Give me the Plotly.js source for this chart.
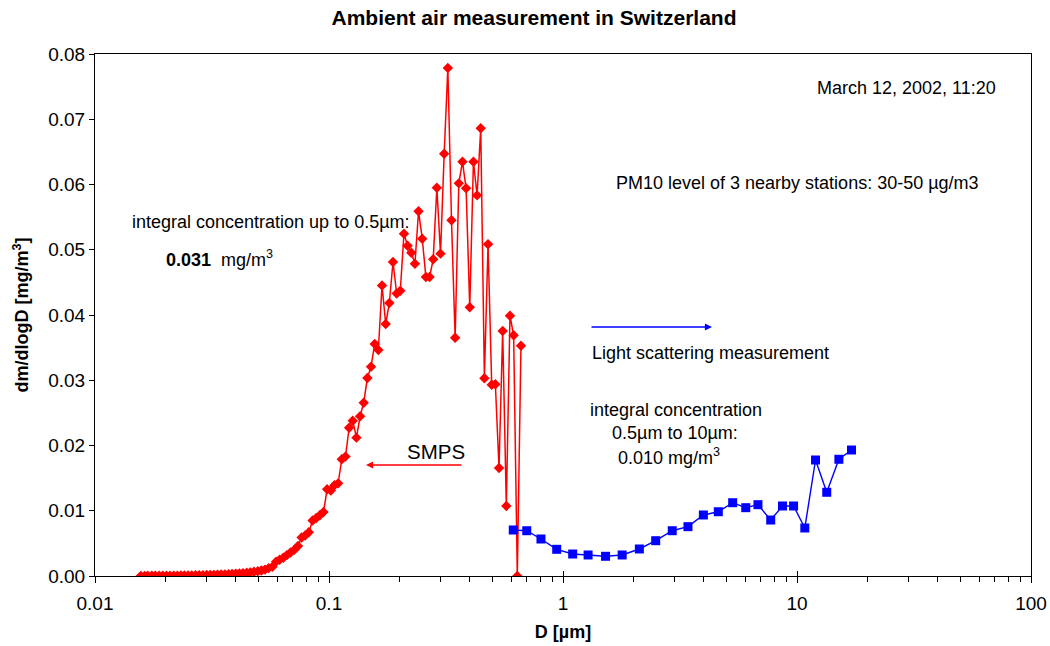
<!DOCTYPE html>
<html>
<head>
<meta charset="utf-8">
<script src="https://cdn.plot.ly/plotly-3.0.1.min.js"></script>
<style>html,body{margin:0;padding:0;background:#fff;}#chart{width:1050px;height:646px;}</style>
</head>
<body>
<div id="chart"></div>
<script>
// SMPS channel midpoints (µm)
const smpsD = [0.0157,0.0163,0.0168,0.0175,0.0181,0.0188,0.0195,0.0202,0.0209,0.0217,
  0.0225,0.0233,0.0241,0.0250,0.0259,0.0269,0.0279,0.0289,0.0300,0.0311,
  0.0322,0.0334,0.0346,0.0359,0.0372,0.0385,0.0400,0.0414,0.0429,0.0445,
  0.0461,0.0478,0.0496,0.0514,0.0533,0.0552,0.0573,0.0594,0.0615,0.0638,
  0.0661,0.0685,0.0710,0.0737,0.0764,0.0791,0.0820,0.0851,0.0882,0.0914,
  0.0947,0.0982,0.1018,0.1055,0.1094,0.1134,0.1176,0.1219,0.1263,0.1310,
  0.1358,0.1407,0.1459,0.1512,0.1568,0.1625,0.1685,0.1747,0.1811,0.1877,
  0.1946,0.2017,0.2091,0.2167,0.2247,0.2329,0.2414,0.2503,0.2595,0.2690,
  0.2788,0.2890,0.2996,0.3106,0.3220,0.3338,0.3460,0.3587,0.3718,0.3854,
  0.3995,0.4142,0.4294,0.4451,0.4614,0.4783,0.4958,0.5140,0.5328,0.5523,
  0.5725,0.5935,0.6153,0.6378,0.6612];
// SMPS dm/dlogD (mg/m3)
const smpsY = [0.00002,0.00002,0.00003,0.00003,0.00003,0.00004,0.00004,0.00005,0.00005,0.00006,
  0.00006,0.00007,0.00008,0.00009,0.00010,0.00011,0.00012,0.00013,0.00015,0.00016,
  0.00018,0.00020,0.00022,0.00025,0.00028,0.00031,0.00035,0.00039,0.00044,0.00050,
  0.00056,0.00064,0.00074,0.00085,0.00098,0.00120,0.00140,0.00220,0.00250,0.00280,
  0.00320,0.00360,0.00400,0.00460,0.00590,0.00620,0.00670,0.00850,0.00890,0.00930,
  0.00980,0.01330,0.01310,0.01390,0.01420,0.01790,0.01830,0.02273,0.02380,0.02120,
  0.02448,0.02656,0.03034,0.03208,0.03556,0.03464,0.04453,0.03862,0.04184,0.04812,
  0.04329,0.04372,0.05246,0.05062,0.04955,0.04786,0.05589,0.05169,0.04582,0.04582,
  0.04854,0.05951,0.04940,0.06472,0.07785,0.05451,0.03652,0.06018,0.06349,0.05942,
  0.04118,0.06349,0.05834,0.06861,0.03030,0.05084,0.02932,0.02938,0.01655,0.03755,
  0.01073,0.03989,0.03689,0.00000,0.03529];
// Light scattering measurement
const lsD = [0.613,0.700,0.805,0.940,1.10,1.28,1.52,1.79,2.12,2.49,2.93,3.42,3.98,4.61,5.31,6.04,6.81,7.72,8.67,9.67,10.8,12.0,13.4,15.1,17.1];
const lsY = [0.00705,0.00694,0.00567,0.00409,0.00337,0.00322,0.00302,0.00322,0.00414,0.00541,0.00694,0.00756,0.00935,0.00985,0.01123,0.01047,0.01093,0.00858,0.01073,0.01073,0.00736,0.01778,0.01283,0.01789,0.01931];

const xTickVals = [0.01, 0.1, 1, 10, 100];
const xTickText = ['0.01', '0.1', '1', '10', '100'];
const xMinorVals = [0.02,0.03,0.04,0.05,0.06,0.07,0.08,0.09,
  0.2,0.3,0.4,0.5,0.6,0.7,0.8,0.9, 2,3,4,5,6,7,8,9, 20,30,40,50,60,70,80,90];
const yTickVals = [0, 0.01, 0.02, 0.03, 0.04, 0.05, 0.06, 0.07, 0.08];

const FONT = 'Liberation Sans, Arial, sans-serif';
const L = 95, R = 1031, T = 54, B = 576;
const px = x => (x - L) / (R - L);
const py = y => (B - y) / (B - T);

const traces = [
  {x: smpsD, y: smpsY, type: 'scatter', mode: 'lines+markers', name: 'SMPS',
   line: {color: '#FF0000', width: 1.5},
   marker: {symbol: 'diamond', size: 8, color: '#FF0000'}},
  {x: lsD, y: lsY, type: 'scatter', mode: 'lines+markers', name: 'Light scattering',
   line: {color: '#0000FF', width: 1.4},
   marker: {symbol: 'square', size: 9, color: '#0000FF'}},
  {x: [], y: [], xaxis: 'x2', type: 'scatter', mode: 'markers', hoverinfo: 'skip'},
  {x: [], y: [], xaxis: 'x3', type: 'scatter', mode: 'markers', hoverinfo: 'skip'}
];

function txt(text, x, y, opts) {
  return Object.assign({text: text, xref: 'paper', yref: 'paper', x: px(x), y: py(y),
    xanchor: 'left', yanchor: 'middle', showarrow: false,
    font: {family: FONT, size: 18, color: '#000'}}, opts || {});
}

const overlayAxis = (vals, dir, len) => ({type: 'log', range: [-2, 2], overlaying: 'x', anchor: 'y', side: 'bottom',
  tickmode: 'array', tickvals: vals, showticklabels: false, ticks: dir, ticklen: len, tickwidth: 1, tickcolor: '#000',
  showline: false, showgrid: false, zeroline: false});

const layout = {
  width: 1050, height: 646,
  margin: {l: L, r: 1050 - R, t: T, b: 646 - B},
  paper_bgcolor: '#fff', plot_bgcolor: '#fff',
  showlegend: false,
  font: {family: FONT, size: 18, color: '#000'},
  title: {text: '<b>Ambient air measurement in Switzerland</b>', x: 534/1050, xanchor: 'center',
          y: 1 - 18/646, yanchor: 'middle', font: {family: FONT, size: 21, color: '#000'}},
  xaxis: {type: 'log', range: [-2, 2], tickmode: 'array', tickvals: xTickVals, ticktext: xTickText,
          ticks: 'outside', ticklen: 6, tickwidth: 1, tickcolor: '#000', ticklabelstandoff: 4,
          showline: true, linecolor: '#000', linewidth: 1, mirror: true, showgrid: false, zeroline: false,
          tickfont: {family: FONT, size: 19}, automargin: false,
          title: {text: '<b>D [µm]</b>', font: {family: FONT, size: 18}, standoff: 12}},
  xaxis2: overlayAxis(xMinorVals, 'outside', 5),
  xaxis3: overlayAxis(xTickVals, 'inside', 5),
  yaxis: {range: [0, 0.08], tickmode: 'array', tickvals: yTickVals, tickformat: '.2f',
          ticks: 'outside', ticklen: 5, tickwidth: 1, tickcolor: '#000',
          showline: true, linecolor: '#000', linewidth: 1, mirror: true, showgrid: false, zeroline: false,
          tickfont: {family: FONT, size: 19}, automargin: false,
          title: {text: '<b>dm/dlogD [mg/m<sup>3</sup>]</b>', font: {family: FONT, size: 18}, standoff: 14}},
  annotations: [
    txt('March 12, 2002, 11:20', 815, 88),
    txt('PM10 level of 3 nearby stations: 30-50 µg/m3', 614, 183),
    txt('integral concentration up to 0.5µm:', 130, 222),
    txt('<b>0.031</b>  mg/m<sup>3</sup>', 164, 258),
    txt('Light scattering measurement', 590, 353),
    txt('integral concentration', 676, 410, {xanchor: 'center'}),
    txt('0.5µm to 10µm:', 675, 433, {xanchor: 'center'}),
    txt('0.010 mg/m<sup>3</sup>', 669, 456, {xanchor: 'center'}),
    txt('SMPS', 405, 451, {font: {family: FONT, size: 20.5, color: '#000'}}),
    {xref: 'paper', yref: 'paper', x: px(366), y: py(465), ax: 97, ay: 0, text: '',
     showarrow: true, arrowhead: 2, arrowsize: 1.1, arrowwidth: 1.3, arrowcolor: '#FF0000'},
    {xref: 'paper', yref: 'paper', x: px(712), y: py(327), ax: -122, ay: 0, text: '',
     showarrow: true, arrowhead: 2, arrowsize: 1.1, arrowwidth: 1.3, arrowcolor: '#0000FF'}
  ]
};

Plotly.newPlot('chart', traces, layout, {displayModeBar: false, staticPlot: true});
</script>
</body>
</html>
